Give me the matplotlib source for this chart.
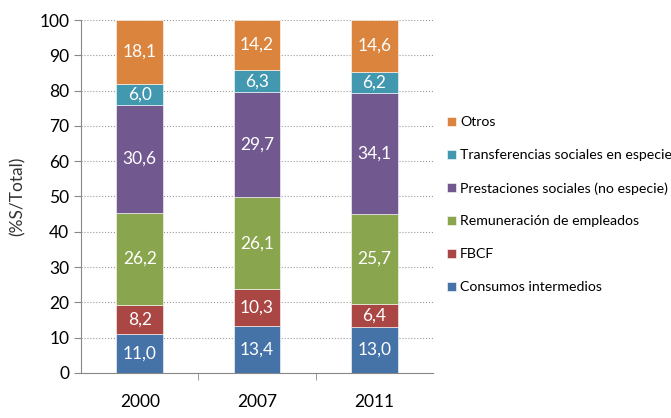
import numpy as np
import matplotlib
matplotlib.use("Agg")
import matplotlib.pyplot as plt

plt.rcParams['font.family'] = ['Lato', 'DejaVu Sans']

years = ['2000', '2007', '2011']
series = ['Consumos intermedios', 'FBCF', 'Remuneración de empleados',
          'Prestaciones sociales (no especie)', 'Transferencias sociales en especie', 'Otros']
consumos = [11.0, 13.4, 13.0]
fbcf = [8.2, 10.3, 6.4]
remuneracion = [26.2, 26.1, 25.7]
prestaciones = [30.6, 29.7, 34.1]
transferencias = [6.0, 6.3, 6.2]
otros = [18.1, 14.2, 14.6]
colors = ['#4572A7', '#AA4643', '#89A54E', '#71588F', '#4198AF', '#DB843D']

values = [consumos, fbcf, remuneracion, prestaciones, transferencias, otros]

fig = plt.figure(figsize=(6.71, 4.18), dpi=100)
ax = fig.add_axes([0.121, 0.108, 0.524, 0.844])

x = np.arange(len(years))
bottom = np.zeros(len(years))
handles = []
for name, vals, col in zip(series, values, colors):
    vals = np.array(vals)
    bars = ax.bar(x, vals, 0.4, bottom=bottom, color=col, edgecolor='white',
                  linewidth=0.4, label=name, zorder=3)
    handles.append(bars)
    for xi, b, v in zip(x, bottom, vals):
        ax.text(xi, b + v / 2, f"{v:.1f}".replace('.', ','), ha='center', va='center',
                color='white', fontsize=12.5, zorder=4)
    bottom += vals

ax.set_xlim(-0.5, 2.5)
ax.set_ylim(0, 100)
ax.set_yticks(np.arange(0, 101, 10))
ax.set_xticks(x)
ax.set_xticklabels(years, fontsize=12.5)
ax.set_xticks([0.5, 1.5], minor=True)
ax.tick_params(axis='x', which='major', length=0, pad=15)
ax.tick_params(axis='x', which='minor', length=5, color='#888888')
ax.tick_params(axis='y', labelsize=12.5, length=5, color='#888888')
ax.set_ylabel('(%S/Total)', fontsize=12.5, color='#333333', labelpad=10)
ax.grid(axis='y', linestyle=':', color='#999999', linewidth=0.8, zorder=0)
for s in ['top', 'right']:
    ax.spines[s].set_visible(False)
for s in ['left', 'bottom']:
    ax.spines[s].set_color('#888888')

fig.legend(handles[::-1], series[::-1], loc='upper left', bbox_to_anchor=(0.658, 0.735),
           frameon=False, fontsize=10.2, handlelength=0.6, handleheight=0.6,
           handletextpad=0.3, labelspacing=1.47, borderaxespad=0)

fig.savefig('out.png', dpi=100)
